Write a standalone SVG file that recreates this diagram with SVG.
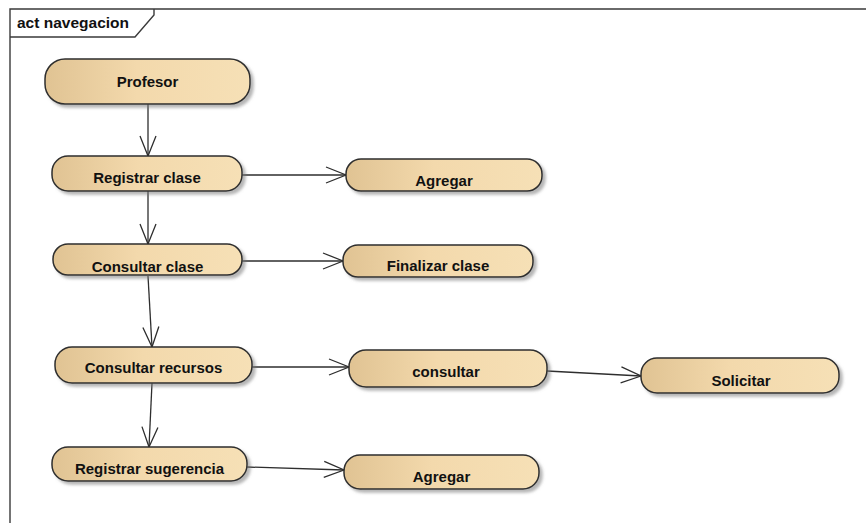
<svg xmlns="http://www.w3.org/2000/svg" width="866" height="523" viewBox="0 0 866 523">
  <style>
    .frame { fill: none; stroke: #3a3a3a; stroke-width: 1.4; }
    .act { fill: url(#actFill); stroke: #2e2e2e; stroke-width: 1.5; filter: url(#shadow); }
    .label { font-family: "Liberation Sans", Arial, sans-serif; font-weight: bold; font-size: 15px; fill: #111; text-anchor: middle; }
    .title { font-family: "Liberation Sans", Arial, sans-serif; font-weight: bold; font-size: 15.5px; fill: #111; }
    .flow { fill: none; stroke: #2e2e2e; stroke-width: 1.3; marker-end: url(#openArrow); }
  </style>
  <defs>
    <linearGradient id="actFill" x1="0" y1="0" x2="1" y2="0">
      <stop offset="0" stop-color="#e0c393"/>
      <stop offset="0.45" stop-color="#f3d9ac"/>
      <stop offset="1" stop-color="#f6e0b6"/>
    </linearGradient>
    <filter id="shadow" x="-10%" y="-20%" width="125%" height="160%">
      <feDropShadow dx="3" dy="3" stdDeviation="1.6" flood-color="#7a7a7a" flood-opacity="0.55"/>
    </filter>
    <marker id="openArrow" markerUnits="userSpaceOnUse" markerWidth="24" markerHeight="20" viewBox="-22 -10 24 20" refX="0" refY="0" orient="auto">
      <path d="M-20,-8 L0,0 L-20,8" fill="none" stroke="#2e2e2e" stroke-width="1.3"/>
    </marker>
  </defs>

  <rect width="866" height="523" fill="#ffffff"/>

  <!-- diagram frame with its name tab -->
  <g id="frame">
    <path class="frame" d="M10,523 V9 H866"/>
    <path class="frame" d="M10,37 H135 L154,15 V9"/>
    <text class="title" x="17" y="28">act navegacion</text>
  </g>

  <!-- control flows -->
  <g id="connectors">
    <line class="flow" x1="148" y1="104" x2="148" y2="156"/>
    <line class="flow" x1="242" y1="175" x2="346" y2="175"/>
    <line class="flow" x1="148" y1="191" x2="148" y2="244"/>
    <line class="flow" x1="242" y1="261" x2="343" y2="261"/>
    <line class="flow" x1="148" y1="276" x2="152" y2="347"/>
    <line class="flow" x1="252" y1="367" x2="349" y2="367"/>
    <line class="flow" x1="547" y1="371" x2="641" y2="376"/>
    <line class="flow" x1="152" y1="383" x2="149" y2="447"/>
    <line class="flow" x1="247" y1="467" x2="344" y2="470"/>
  </g>

  <!-- actions -->
  <g id="profesor">
    <rect class="act" x="45" y="59" width="205" height="45" rx="20"/>
    <text class="label" x="147.5" y="87">Profesor</text>
  </g>
  <g id="registrar-clase">
    <rect class="act" x="52" y="156" width="190" height="35" rx="16"/>
    <text class="label" x="147" y="183">Registrar clase</text>
  </g>
  <g id="agregar-clase">
    <rect class="act" x="346" y="159" width="196" height="32" rx="15"/>
    <text class="label" x="444" y="186">Agregar</text>
  </g>
  <g id="consultar-clase">
    <rect class="act" x="53" y="244" width="189" height="31" rx="15"/>
    <text class="label" x="147.5" y="272">Consultar clase</text>
  </g>
  <g id="finalizar-clase">
    <rect class="act" x="343" y="245" width="190" height="32" rx="15"/>
    <text class="label" x="438" y="271">Finalizar clase</text>
  </g>
  <g id="consultar-recursos">
    <rect class="act" x="55" y="347" width="197" height="36" rx="17"/>
    <text class="label" x="153.5" y="373">Consultar recursos</text>
  </g>
  <g id="consultar">
    <rect class="act" x="349" y="350" width="198" height="37" rx="17"/>
    <text class="label" x="446" y="377">consultar</text>
  </g>
  <g id="solicitar">
    <rect class="act" x="641" y="358" width="198" height="35" rx="16"/>
    <text class="label" x="741" y="386">Solicitar</text>
  </g>
  <g id="registrar-sugerencia">
    <rect class="act" x="52" y="447" width="195" height="34" rx="16"/>
    <text class="label" x="149.5" y="474">Registrar sugerencia</text>
  </g>
  <g id="agregar-sugerencia">
    <rect class="act" x="344" y="455" width="195" height="34" rx="16"/>
    <text class="label" x="441.5" y="482">Agregar</text>
  </g>
</svg>
